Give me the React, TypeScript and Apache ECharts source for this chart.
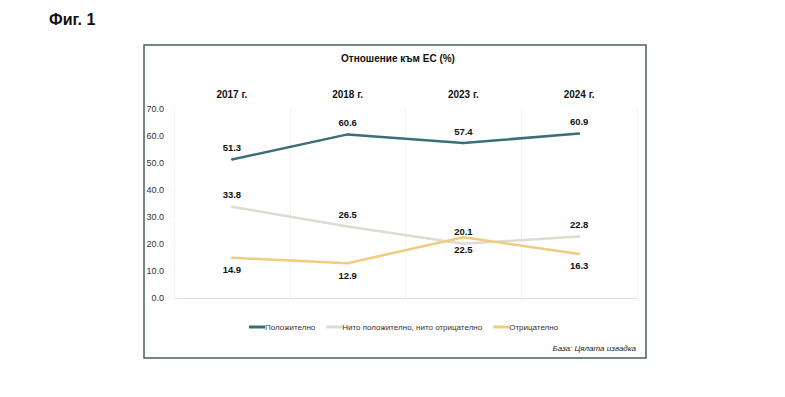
import React, { useEffect, useRef } from "react";
import * as echarts from "echarts";

const categories = ["2017 г.", "2018 г.", "2023 г.", "2024 г."];
const positive = [51.3, 60.6, 57.4, 60.9];
const neutral = [33.8, 26.5, 20.1, 22.8];
const negative = [14.9, 12.9, 22.5, 16.3];
const seriesNames = ["Положително", "Нито положително, нито отрицателно", "Отрицателно"];

const FONT2 = "'Liberation Sans', Arial, sans-serif";

export default function App() {
  const ref = useRef<HTMLDivElement>(null);
  useEffect(() => {
    if (!ref.current) return;
    const chart = echarts.init(ref.current, null, { renderer: "svg" });
    const label = (pos: string) => ({
      show: true,
      position: pos,
      distance: 6,
      fontFamily: FONT2,
      fontWeight: "bold",
      fontSize: 9.5,
      color: "#111",
      opacity: 1,
      formatter: (p: any) => Number(p.value).toFixed(1),
    });
    const mk = (name: string, data: number[], color: string, pos: string) => ({
      name,
      type: "line",
      data,
      symbol: "circle",
      symbolSize: 2,
      showSymbol: true,
      lineStyle: { color, width: 2.5 },
      itemStyle: { color },
      label: label(pos),
    });
    chart.setOption({
      animation: false,
      backgroundColor: "#ffffff",
      textStyle: { fontFamily: FONT2 },
      graphic: [
        {
          type: "rect",
          shape: { x: 144, y: 45, width: 502, height: 313 },
          style: { fill: "none", stroke: "#46625f", lineWidth: 1.5 },
          silent: true,
        },
        {
          type: "text",
          left: 49,
          top: 11,
          style: { text: "Фиг. 1", font: `bold 16px ${FONT2}`, fill: "#111" },
        },
        {
          type: "text",
          left: 341,
          top: 53,
          style: { text: "Отношение към ЕС (%)", font: `bold 10px ${FONT2}`, fill: "#111" },
        },
        {
          type: "text",
          right: 149,
          top: 344,
          style: { text: "База: Цялата извадка", font: `italic 8px ${FONT2}`, fill: "#222" },
        },
      ],
      legend: {
        data: seriesNames,
        left: 244,
        top: 318,
        itemWidth: 16,
        itemHeight: 3,
        itemGap: 11,
        icon: "rect",
        textStyle: { fontSize: 8, color: "#333", fontFamily: FONT2, padding: [0, 0, 0, -5] },
      },
      grid: { left: 174, right: 148, top: 109, bottom: 99, containLabel: false },
      xAxis: {
        type: "category",
        data: categories,
        position: "top",
        boundaryGap: true,
        axisLine: { show: false },
        axisTick: { show: false },
        axisLabel: {
          margin: 10,
          fontFamily: FONT2,
          fontWeight: "bold",
          fontSize: 10,
          color: "#111",
        },
        splitLine: { show: true, lineStyle: { color: "#f3f3f3", width: 1 } },
      },
      yAxis: {
        type: "value",
        min: 0,
        max: 70,
        interval: 10,
        axisLine: { show: false },
        axisTick: { show: false },
        axisLabel: {
          margin: 10,
          fontSize: 9,
          color: "#333",
          fontFamily: FONT2,
          formatter: (v: number) => v.toFixed(1),
        },
        splitLine: { show: false },
      },
      series: [
        mk(seriesNames[0], positive, "#3a6f77", "top"),
        mk(seriesNames[1], neutral, "#dcdcd1", "top"),
        mk(seriesNames[2], negative, "#f0cc80", "bottom"),
        {
          type: "line",
          data: [0, 0, 0, 0],
          symbol: "none",
          silent: true,
          lineStyle: { width: 0 },
          markLine: {
            silent: true,
            symbol: "none",
            label: { show: false },
            lineStyle: { color: "#dcdcdc", width: 1, type: "solid" },
            data: [{ yAxis: 0 }],
          },
        },
      ],
    });
    return () => chart.dispose();
  }, []);
  return (
    <div
      ref={ref}
      style={{ position: "fixed", left: 0, top: 0, width: 785, height: 397, background: "#fff" }}
    />
  );
}
